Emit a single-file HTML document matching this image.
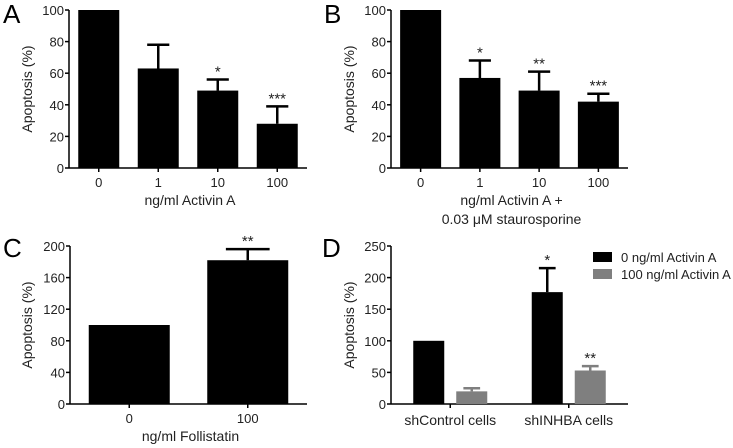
<!DOCTYPE html>
<html><head><meta charset="utf-8"><style>
body{margin:0;background:#fff;}
svg{display:block;font-family:"Liberation Sans",sans-serif;}
</style></head><body>
<svg id="fig" width="733" height="448" viewBox="0 0 733 448"></svg>
<script>
// Panel A
const catsA=["0","1","10","100"];
const valsA=[100,63,49,28];
const errA=[null,78,56,39];
const sigA=["","","*","***"];
const ticksA=[0,20,40,60,80,100];
// Panel B
const catsB=["0","1","10","100"];
const valsB=[100,57,49,42];
const errB=[null,68,61,47];
const sigB=["","*","**","***"];
const ticksB=[0,20,40,60,80,100];
// Panel C
const catsC=["0","100"];
const valsC=[100,182];
const errC=[null,196];
const sigC=["","**"];
const ticksC=[0,40,80,120,160,200];
// Panel D
const groupsD=["shControl cells","shINHBA cells"];
const seriesNamesD=["0 ng/ml Activin A","100 ng/ml Activin A"];
const vals0D=[100,177];
const err0D=[null,215];
const sig0D=["","*"];
const vals100D=[20,53];
const err100D=[25,60];
const sig100D=["","**"];
const ticksD=[0,50,100,150,200,250];

const NS="http://www.w3.org/2000/svg";
const svg=document.getElementById('fig');
function el(tag,attrs,parent){const e=document.createElementNS(NS,tag);for(const k in attrs)e.setAttribute(k,attrs[k]);(parent||svg).appendChild(e);return e;}
function txt(s,attrs,parent){const t=el('text',attrs,parent);t.textContent=s;return t;}

function axes(p){
  const g=el('g',{});
  
  
  const yS=v=>p.y0-(v-p.min)/(p.max-p.min)*(p.y0-p.yTop);
  const l=txt(p.id,{x:p.lx,y:p.ly,'font-size':26,fill:'#000'},g);
  
  
  const ya=el('line',{x1:p.ax,y1:p.yTop,x2:p.ax,y2:p.y0,stroke:'#000','stroke-width':1.5},g);
  
  
  const xa=el('line',{x1:p.ax,y1:p.y0,x2:p.axEnd,y2:p.y0,stroke:'#000','stroke-width':1.5},g);
  
  
  p.ticks.forEach(t=>{
    el('line',{x1:p.ax-4,y1:yS(t),x2:p.ax,y2:yS(t),stroke:'#000','stroke-width':1.5},g);
    const tl=txt(String(t),{x:p.ax-5,y:yS(t)+5,'font-size':13,'text-anchor':'end',fill:'#222'},g);
    
    
  });
  const yt=txt('Apoptosis (%)',{x:0,y:0,'font-size':14,'text-anchor':'middle',fill:'#222',transform:`translate(${p.ytx},${(p.yTop+p.y0)/2}) rotate(-90)`},g);
  
  
  return {g,yS};
}
function bar(g,yS,x,w,v,e,s,color,p){
  const r=el('rect',{x:x,y:yS(v),width:w,height:p.y0-yS(v),fill:color},g);
  
  
  const cx=x+w/2;
  if(e!=null){
    const ew=el('path',{d:`M${cx},${yS(v)} V${yS(e)} M${cx-w*0.27},${yS(e)} H${cx+w*0.27}`,stroke:color,'stroke-width':2.5,fill:'none'},g);
    
    
  }
  if(s){
    const top=e!=null?yS(e):yS(v);
    const st=txt(s,{x:cx,y:top-3,'font-size':15,'text-anchor':'middle',fill:'#222'},g);
    
    
  }
}
function simplePanel(p,cats,vals,errs,sigs){
  const {g,yS}=axes(p);
  const n=cats.length,step=(p.axEnd-p.ax)/n;
  cats.forEach((c,i)=>{
    const cx=p.ax+step*(i+0.5);
    bar(g,yS,cx-p.bw/2,p.bw,vals[i],errs[i],sigs[i],'#000',p);
    el('line',{x1:cx,y1:p.y0,x2:cx,y2:p.y0+4,stroke:'#000','stroke-width':1.5},g);
    const tl=txt(c,{x:cx,y:p.y0+19,'font-size':13,'text-anchor':'middle',fill:'#222'},g);
    
    
  });
  p.xlabel.forEach((s,i)=>{
    const xl=txt(s,{x:(p.ax+p.axEnd)/2+2,y:p.y0+37+i*19,'font-size':14,'text-anchor':'middle',fill:'#222'},g);
    
    
  });
}
simplePanel({id:'A',lx:3,ly:23,ax:69,axEnd:307,yTop:10,y0:168,min:0,max:100,ticks:ticksA,ytx:32,bw:41,xlabel:['ng/ml Activin A']},catsA,valsA,errA,sigA);
simplePanel({id:'B',lx:324,ly:23,ax:391,axEnd:628,yTop:10,y0:168,min:0,max:100,ticks:ticksB,ytx:354,bw:41,xlabel:['ng/ml Activin A +','0.03 \u03bcM staurosporine']},catsB,valsB,errB,sigB);
simplePanel({id:'C',lx:3,ly:257,ax:70,axEnd:307,yTop:246,y0:404,min:0,max:200,ticks:ticksC,ytx:32,bw:81,xlabel:['ng/ml Follistatin']},catsC,valsC,errC,sigC);

// Panel D
(function(){
  const p={id:'D',lx:322,ly:257,ax:391,axEnd:628,yTop:246,y0:404,min:0,max:250,ticks:ticksD,ytx:354};
  const {g,yS}=axes(p);
  const step=(p.axEnd-p.ax)/groupsD.length,bw=31;
  groupsD.forEach((c,i)=>{
    const cx=p.ax+step*(i+0.5);
    bar(g,yS,cx-bw-6,bw,vals0D[i],err0D[i],sig0D[i],'#000',p);
    bar(g,yS,cx+6,bw,vals100D[i],err100D[i],sig100D[i],'#7f7f7f',p);
    el('line',{x1:cx,y1:p.y0,x2:cx,y2:p.y0+4,stroke:'#000','stroke-width':1.5},g);
    const tl=txt(c,{x:cx,y:p.y0+21,'font-size':14,'text-anchor':'middle',fill:'#222'},g);
    
    
  });
  const colors=['#000','#7f7f7f'];
  seriesNamesD.forEach((s,i)=>{
    const lg=el('g',{},g);
    
    
    el('rect',{x:593,y:252+i*17,width:19,height:10,fill:colors[i]},lg);
    txt(s,{x:621,y:262+i*17,'font-size':13,fill:'#222'},lg);
  });
})();
</script>
</body></html>
